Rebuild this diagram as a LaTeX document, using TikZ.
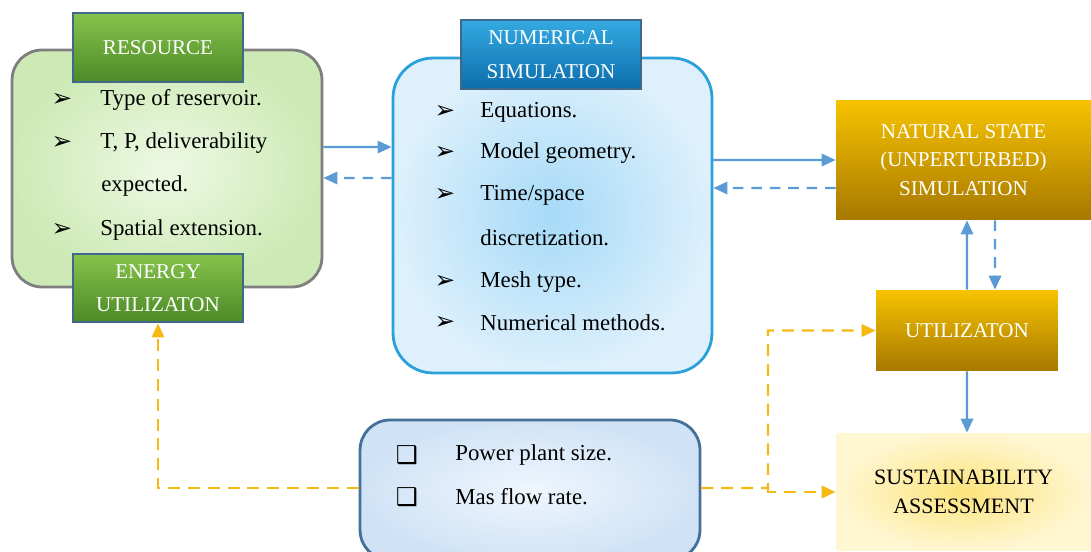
\documentclass[tikz,border=0pt]{standalone}
\usepackage{fontspec}
\setmainfont{Liberation Serif}
\newfontfamily\symfont{DejaVu Sans}
\usetikzlibrary{positioning, arrows.meta}

\definecolor{resline}{HTML}{7F7F7F}
\definecolor{resin}{HTML}{EEF9E4}
\definecolor{resout}{HTML}{CDEAB6}
\definecolor{tabline}{HTML}{41688A}
\definecolor{greentop}{HTML}{86C34C}
\definecolor{greenbot}{HTML}{4C8A27}
\definecolor{bluetop}{HTML}{34A9E1}
\definecolor{bluebot}{HTML}{0C6EAC}
\definecolor{numline}{HTML}{2AA1D8}
\definecolor{numin}{HTML}{A6DAF7}
\definecolor{numout}{HTML}{DDF0FC}
\definecolor{goldtop}{HTML}{F7C300}
\definecolor{goldbot}{HTML}{A67800}
\definecolor{sustin}{HTML}{FCE47C}
\definecolor{sustout}{HTML}{FFF6D2}
\definecolor{powline}{HTML}{45709A}
\definecolor{powin}{HTML}{EFF6FD}
\definecolor{powout}{HTML}{D0E3F6}
\definecolor{flowblue}{HTML}{5B9BD5}
\definecolor{floworange}{HTML}{F5B914}

\tikzset{
  bigbox/.style={draw, line width=1.6pt, minimum width=#1},
  greentab/.style={draw=tabline, line width=1.6pt, top color=greentop, bottom color=greenbot,
    text=white, align=center, font=\fontsize{12}{19}\selectfont, minimum width=3.4cm},
  bluetab/.style={draw=tabline, line width=1.6pt, top color=bluetop, bottom color=bluebot,
    text=white, align=center, font=\fontsize{12}{19}\selectfont},
  goldbox/.style={top color=goldtop, bottom color=goldbot,
    text=white, align=center, font=\fontsize{12}{16.4}\selectfont},
  item/.style={anchor=west, inner sep=0pt, font=\fontsize{13}{15}\selectfont},
  bul/.style={inner sep=0pt, font=\symfont\fontsize{14}{16}\selectfont},
  flow/.style={draw=flowblue, line width=1.4pt, -{Triangle[length=8pt,width=7pt]}},
  dflow/.style={flow, dash pattern=on 6pt off 4.5pt},
  oflow/.style={draw=floworange, line width=1.4pt, dash pattern=on 6.8pt off 4.5pt, -{Triangle[length=8pt,width=7pt]}}
}

\begin{document}
\begin{tikzpicture}[x=0.02cm, y=-0.02cm]
\clip (0,0) rectangle (1091,551);
\fill[white] (0,0) rectangle (1091,551);

% resource block
\node[bigbox=6.2cm, draw=resline, minimum height=4.74cm, rounded corners=0.6cm,
  inner color=resin, outer color=resout] (res) at (167,168.5) {};
\node[greentab, minimum height=1.38cm] (restab) at (158,47.5) {RESOURCE};
\node[greentab, minimum height=1.36cm] (energy) at (158,288) {ENERGY\\UTILIZATON};
\node[bul] (rb1) at (62,100) {➢};
\node[item] (r1) at (100,100) {Type of reservoir.};
\node[bul] (rb2) at (62,143) {➢};
\node[item] (r2) at (100,143) {T, P, deliverability};
\node[item] (r3) at (101,186) {expected.};
\node[bul] (rb4) at (62,230) {➢};
\node[item] (r4) at (100,230) {Spatial extension.};

% numerical simulation block
\node[bigbox=6.38cm, draw=numline, minimum height=6.3cm, rounded corners=0.8cm,
  inner color=numin, outer color=numout] (num) at (552.5,215.5) {};
\node[bluetab, minimum width=3.6cm, minimum height=1.38cm] (numtab) at (551,54.5) {NUMERICAL\\SIMULATION};
\node[bul] (nb1) at (445,112) {➢};
\node[item] (n1) at (480,112) {Equations.};
\node[bul] (nb2) at (445,153) {➢};
\node[item] (n2) at (480,153) {Model geometry.};
\node[bul] (nb3) at (445,195) {➢};
\node[item] (n3) at (480,195) {Time/space};
\node[item] (n4) at (480,238) {discretization.};
\node[bul] (nb5) at (445,282) {➢};
\node[item] (n5) at (480,282) {Mesh type.};
\node[bul] (nb6) at (445,323) {➢};
\node[item] (n6) at (480,323) {Numerical methods.};

% right column
\node[goldbox, minimum width=5.1cm, minimum height=2.4cm] (nat) at (963.5,160) {NATURAL STATE\\(UNPERTURBED)\\SIMULATION};
\node[goldbox, minimum width=3.64cm, minimum height=1.62cm] (util) at (967,330.5) {UTILIZATON};
\node[minimum width=5.1cm, minimum height=2.36cm, inner color=sustin, outer color=sustout,
  align=center, font=\fontsize{12.5}{16.4}\selectfont] (sust) at (963.5,492) {SUSTAINABILITY\\ASSESSMENT};

% power plant block
\node[bigbox=6.8cm, draw=powline, minimum height=2.8cm, rounded corners=0.6cm,
  inner color=powin, outer color=powout] (pow) at (530,490) {};
\node[bul] (pb1) at (407,455) {❑};
\node[item] (p1) at (455,455) {Power plant size.};
\node[bul] (pb2) at (407,497) {❑};
\node[item] (p2) at (455,497) {Mas flow rate.};

% connectors
\draw[flow] ([yshift=0.43cm]res.east) -- ([yshift=1.37cm]num.west);
\draw[dflow] ([yshift=0.75cm]num.west) -- ([yshift=-0.19cm]res.east);
\draw[flow] ([yshift=1.11cm]num.east) -- (nat.west);
\draw[dflow] ([yshift=-0.56cm]nat.west) -- ([yshift=0.55cm]num.east);
\draw[flow] (util.north) -- ([xshift=0.07cm]nat.south);
\draw[dflow] ([xshift=0.63cm]nat.south) -- ([xshift=0.56cm]util.north);
\draw[flow] (util.south) -- ([xshift=0.07cm]sust.north);
\coordinate (split) at (768,488);
\draw[oflow] ([yshift=0.04cm]pow.west) -| (energy.south);
\draw[oflow] ([yshift=0.04cm]pow.east) -- (split) |- (util.west);
\draw[oflow] (split) |- (sust.west);
\end{tikzpicture}
\end{document}
